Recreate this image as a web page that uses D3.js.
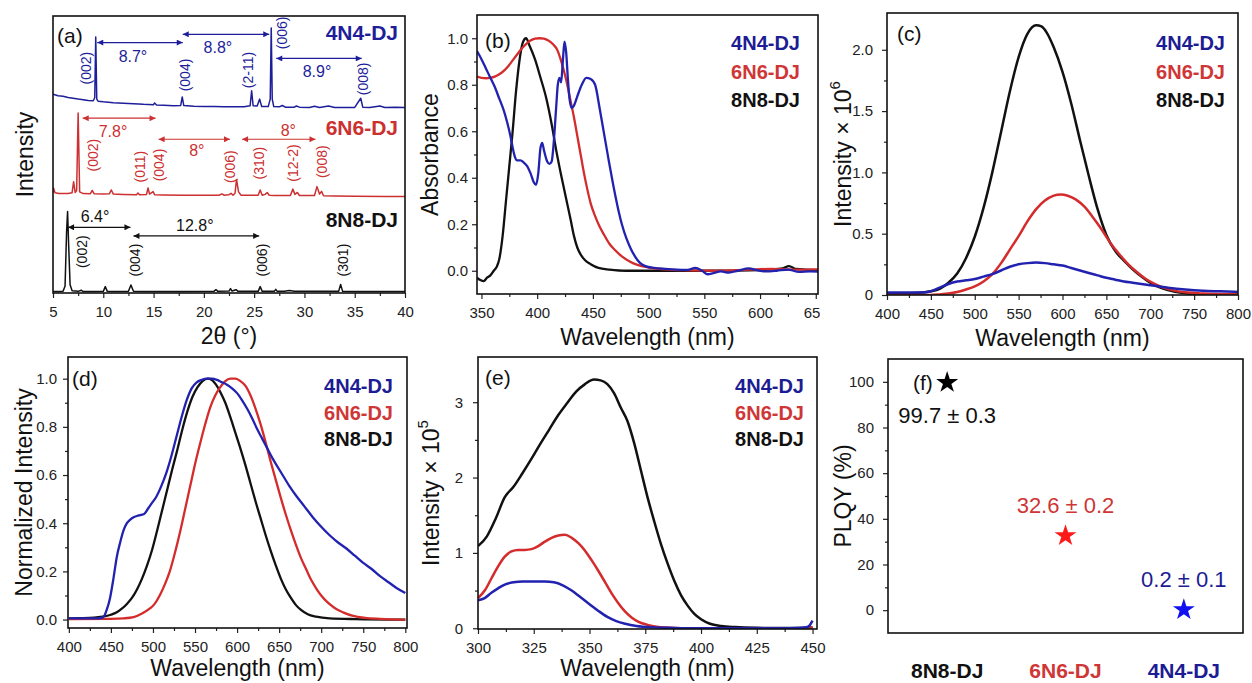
<!DOCTYPE html>
<html>
<head>
<meta charset="utf-8">
<script src="https://cdn.jsdelivr.net/npm/d3@7"></script>
<style>
  body { margin: 0; background: #fff; }
  svg { display: block; }
</style>
</head>
<body>
<svg id="fig" width="1252" height="683"></svg>
<script>
// ---------------- data ----------------
const samples = ['4N4-DJ', '6N6-DJ', '8N8-DJ'];

// (a) XRD patterns, [2theta, stacked intensity]
const xrd4N4 = [[5.0,71.8],[5.5,71.2],[6,71.0],[6.5,70.6],[7,70.3],[7.5,70.0],[8,69.8],[8.5,69.5],[9.0,69.4],[9.15,70.5],[9.25,92.4],[9.35,70.0],[9.5,69.2],[10,69.0],[11,68.7],[12,68.5],[13,68.3],[14,68.1],[15,68.0],[15.1,68.6],[15.3,67.9],[16,67.8],[17,67.6],[17.7,67.7],[17.85,70.8],[18.0,67.7],[19,67.4],[20,67.3],[21,67.3],[22,67.2],[23,67.2],[24,67.2],[24.6,67.6],[24.75,73.0],[24.9,67.6],[25.3,67.5],[25.55,70.0],[25.75,67.3],[26.4,67.3],[26.6,70],[26.7,95.7],[26.8,70],[26.95,67.3],[27.5,67.2],[27.8,67.7],[28.1,67.1],[29,67.1],[29.2,67.5],[29.5,67.1],[30.5,67.0],[31,67.4],[31.5,67.0],[32.4,67.5],[33,67.0],[35.0,67.0],[35.6,70.3],[35.8,67.1],[36.5,67.0],[37.5,67.5],[38,67.0],[39,67.1],[40,67.0]];
const xrd6N6 = [[5.0,36.3],[5.05,37.9],[5.2,36.2],[5.6,35.9],[6.5,35.9],[6.9,36.2],[7.05,40.2],[7.2,36.3],[7.35,37],[7.5,65.0],[7.65,36.5],[8,35.9],[8.7,35.8],[8.9,37.0],[9.1,35.8],[10,35.7],[10.6,35.8],[10.8,37.2],[11.0,35.7],[12,35.6],[13.3,35.5],[13.45,36.1],[13.6,35.5],[14.3,35.6],[14.45,37.9],[14.6,35.7],[14.95,36.6],[15.1,35.5],[16,35.4],[18,35.3],[20,35.3],[21.5,35.3],[21.8,35.8],[22.0,35.3],[22.5,35.5],[22.7,36.0],[22.9,35.3],[23.1,36],[23.25,41.0],[23.45,36.5],[23.7,35.3],[25.4,35.3],[25.6,37.2],[25.8,35.3],[26.1,35.6],[26.3,36.3],[26.5,35.3],[27,35.2],[28.6,35.2],[28.85,37.5],[29.05,35.6],[29.3,36.3],[29.5,35.2],[31.0,35.2],[31.25,38.4],[31.5,35.7],[31.7,36.7],[31.9,35.1],[33,35.0],[35,34.9],[38,34.8],[40,34.8]];
const xrd8N8 = [[5.0,0.5],[5.5,0.5],[6.0,0.6],[6.2,2.5],[6.35,22],[6.45,29.4],[6.55,18],[6.7,3],[6.9,0.8],[7.5,0.6],[7.8,1.0],[8.0,0.5],[9,0.5],[10.0,0.6],[10.2,2.3],[10.4,0.6],[11,0.5],[12.5,0.6],[12.75,2.9],[13.0,0.6],[14,0.5],[18,0.5],[21.0,0.6],[21.2,1.2],[21.4,0.6],[22.5,0.7],[22.65,1.6],[22.8,0.7],[23.2,1.2],[23.4,0.6],[25.4,0.6],[25.6,2.3],[25.8,0.6],[27.0,0.6],[27.15,1.3],[27.3,0.6],[28,0.6],[28.5,0.9],[29,0.6],[33.4,0.6],[33.6,3.1],[33.8,0.6],[35,0.5],[40,0.5]];

// (a) annotations: peak indices [label, 2theta, height] and spacings [from, to, height, label, labelX, labelY]
const hkl4N4 = [['(002)',8.28,81.2],['(004)',18.13,78.7],['(2-11)',24.39,80.5],['(006)',27.77,93.9],['(008)',35.82,77.3]];
const hkl6N6 = [['(002)',8.95,49.8],['(011)',13.65,45.6],['(004)',15.57,46.2],['(006)',22.6,45.6],['(310)',25.5,46.9],['(12-2)',28.9,46.9],['(008)',31.7,47.4]];
const hkl8N8 = [['(002)',7.85,14.9],['(004)',13.15,11.9],['(006)',25.75,11.9],['(301)',33.87,11.9]];
const gap4N4 = [[9.4,17.9,90.4,'8.7°',12.95,85.2],[17.9,26.5,93.4,'8.8°',21.4,88.8],[27.2,35.7,84.7,'8.9°',31.25,79.8]];
const gap6N6 = [[7.95,15.2,63.1,'7.8°',10.97,58.2],[15.5,22.6,55.5,'8°',19.3,51.6],[23.8,31.1,55.5,'8°',28.4,58.8]];
const gap8N8 = [[6.5,12.7,23.7,'6.4°',9.18,27.5],[13.0,25.5,20.6,'12.8°',19.1,24.5]];

// (b) absorbance, [nm, abs]
const abs4N4 = [[346,0.945],[350,0.91],[354,0.87],[358,0.83],[362,0.79],[366,0.74],[370,0.69],[373,0.64],[376,0.58],[378,0.53],[380,0.49],[382,0.475],[385,0.475],[388,0.465],[391,0.45],[394,0.42],[397,0.38],[399,0.37],[401,0.42],[403,0.53],[404.5,0.55],[406,0.52],[409,0.47],[411,0.46],[413,0.47],[415,0.56],[417,0.7],[418.5,0.8],[420,0.83],[421.5,0.81],[423,0.9],[424.5,0.985],[426,0.94],[427.5,0.83],[429,0.74],[431,0.7],[433,0.71],[436,0.75],[440,0.8],[444,0.83],[448,0.825],[452,0.8],[456,0.7],[460,0.59],[464,0.48],[468,0.375],[472,0.28],[476,0.2],[480,0.14],[484,0.095],[488,0.06],[492,0.035],[497,0.02],[505,0.012],[515,0.008],[525,0.005],[535,0.004],[542,0.012],[548,0.0],[553,-0.015],[558,-0.01],[565,-0.003],[572,-0.008],[580,0.0],[590,0.01],[597,0.003],[605,-0.003],[615,0.0],[625,0.005],[635,-0.005],[645,-0.003],[652,-0.004]];
const abs6N6 = [[346,0.835],[350,0.83],[354,0.828],[358,0.83],[362,0.835],[366,0.845],[370,0.86],[374,0.88],[378,0.905],[382,0.93],[386,0.955],[390,0.975],[394,0.99],[398,0.998],[402,1.0],[406,0.998],[410,0.99],[414,0.975],[418,0.95],[421,0.91],[424,0.86],[427,0.8],[430,0.73],[433,0.66],[436,0.58],[439,0.5],[442,0.42],[445,0.35],[448,0.29],[452,0.235],[456,0.19],[460,0.155],[465,0.115],[470,0.088],[476,0.062],[483,0.04],[490,0.025],[500,0.014],[515,0.006],[535,0.002],[560,0.0],[590,0.005],[610,0.008],[630,0.005],[652,0.006]];
const abs8N8 = [[346,-0.03],[349,-0.04],[352,-0.045],[355,-0.03],[358,-0.02],[361,0.0],[364,0.02],[366,0.05],[369,0.15],[372,0.3],[375,0.45],[378,0.6],[381,0.77],[384,0.9],[387,0.98],[390,1.0],[393,0.97],[398,0.91],[403,0.83],[408,0.745],[413,0.63],[417,0.52],[422,0.4],[426,0.31],[430,0.22],[433,0.15],[436,0.1],[439,0.07],[443,0.045],[448,0.028],[455,0.012],[465,0.005],[480,0.0],[500,0.0],[530,0.0],[560,0.0],[600,0.003],[620,0.01],[626,0.02],[632,0.008],[652,0.003]];

// (c) PL intensity x 10^6
const pl4N4 = [[400,0.02],[440,0.02],[450,0.03],[460,0.06],[470,0.09],[480,0.11],[490,0.12],[500,0.13],[510,0.15],[520,0.17],[530,0.2],[540,0.23],[550,0.25],[560,0.26],[570,0.265],[580,0.26],[590,0.25],[600,0.24],[610,0.22],[620,0.2],[630,0.18],[640,0.16],[650,0.14],[660,0.125],[670,0.11],[680,0.1],[690,0.09],[700,0.08],[720,0.06],[740,0.045],[760,0.035],[780,0.03],[800,0.025]];
const pl6N6 = [[400,0],[450,0.0],[460,0.005],[470,0.012],[480,0.025],[490,0.045],[500,0.07],[510,0.11],[520,0.17],[530,0.26],[540,0.37],[550,0.48],[560,0.6],[570,0.7],[580,0.77],[590,0.81],[598,0.82],[606,0.81],[615,0.78],[625,0.72],[635,0.63],[645,0.53],[655,0.42],[665,0.33],[675,0.25],[685,0.185],[695,0.13],[705,0.09],[715,0.06],[725,0.04],[740,0.022],[760,0.012],[780,0.008],[800,0.006]];
const pl8N8 = [[400,0.01],[420,0.012],[440,0.02],[450,0.03],[460,0.05],[470,0.1],[480,0.175],[490,0.3],[500,0.475],[510,0.71],[520,1.0],[530,1.33],[540,1.66],[550,1.94],[560,2.13],[570,2.2],[576,2.19],[582,2.14],[590,2.02],[600,1.82],[610,1.56],[620,1.26],[630,0.97],[640,0.7],[650,0.49],[660,0.36],[670,0.28],[680,0.21],[690,0.15],[700,0.1],[710,0.065],[720,0.04],[740,0.014],[760,0.004],[780,0.0],[800,0.0]];

// (d) normalized PL
const norm4N4 = [[400,0.005],[420,0.005],[435,0.005],[441,0.01],[445,0.04],[449,0.09],[453,0.17],[457,0.26],[461,0.32],[465,0.37],[469,0.4],[473,0.415],[477,0.425],[481,0.43],[486,0.435],[490,0.44],[494,0.46],[498,0.48],[504,0.51],[510,0.555],[516,0.61],[522,0.68],[528,0.76],[534,0.84],[540,0.91],[546,0.96],[552,0.985],[558,0.995],[564,1.0],[570,1.0],[576,0.995],[582,0.985],[588,0.975],[594,0.96],[600,0.94],[606,0.91],[612,0.875],[618,0.835],[624,0.79],[630,0.75],[636,0.71],[642,0.67],[648,0.635],[655,0.595],[662,0.555],[670,0.515],[680,0.47],[690,0.425],[700,0.385],[710,0.35],[720,0.32],[730,0.295],[740,0.265],[750,0.235],[760,0.21],[770,0.18],[780,0.155],[790,0.13],[800,0.11]];
const norm6N6 = [[400,0.002],[450,0.003],[465,0.005],[477,0.01],[487,0.025],[496,0.045],[502,0.065],[508,0.1],[514,0.145],[520,0.2],[526,0.275],[532,0.36],[538,0.455],[544,0.55],[550,0.645],[556,0.73],[562,0.81],[568,0.88],[574,0.93],[580,0.965],[586,0.99],[592,1.0],[598,1.0],[604,0.99],[610,0.97],[616,0.93],[622,0.875],[628,0.81],[634,0.735],[640,0.655],[646,0.58],[652,0.505],[658,0.435],[664,0.37],[670,0.31],[676,0.255],[682,0.21],[688,0.165],[694,0.13],[700,0.1],[708,0.07],[716,0.048],[726,0.03],[738,0.015],[752,0.007],[770,0.003],[800,0.0]];
const norm8N8 = [[400,0.005],[430,0.008],[440,0.012],[450,0.02],[457,0.03],[463,0.045],[469,0.065],[475,0.09],[481,0.125],[487,0.17],[493,0.225],[499,0.29],[505,0.37],[511,0.455],[517,0.54],[523,0.625],[529,0.705],[535,0.79],[541,0.865],[547,0.925],[553,0.965],[559,0.99],[565,1.0],[570,0.995],[575,0.975],[580,0.945],[586,0.9],[592,0.84],[598,0.775],[604,0.71],[610,0.64],[616,0.565],[622,0.49],[628,0.42],[634,0.35],[640,0.285],[646,0.225],[652,0.17],[658,0.125],[664,0.09],[670,0.06],[676,0.04],[684,0.022],[694,0.012],[710,0.005],[740,0.002],[800,0.0]];

// (e) PLE intensity x 10^5
const ple4N4 = [[300,0.37],[303,0.4],[306,0.47],[309,0.53],[312,0.58],[316,0.61],[320,0.62],[325,0.62],[330,0.62],[334,0.61],[338,0.57],[342,0.5],[346,0.41],[350,0.32],[354,0.23],[358,0.15],[362,0.095],[366,0.06],[371,0.03],[378,0.012],[388,0.004],[400,0.0],[440,0.0],[445,0.005],[448,0.02],[450,0.1]];
const ple6N6 = [[300,0.4],[303,0.5],[306,0.66],[309,0.82],[312,0.95],[315,1.02],[318,1.04],[321,1.04],[324,1.05],[327,1.09],[330,1.15],[333,1.2],[336,1.23],[339,1.24],[342,1.2],[345,1.13],[348,1.03],[351,0.9],[354,0.76],[357,0.61],[360,0.46],[363,0.33],[366,0.22],[369,0.14],[372,0.085],[376,0.045],[380,0.02],[386,0.008],[395,0.0],[448,0.0],[450,0.015]];
const ple8N8 = [[300,1.09],[304,1.22],[308,1.46],[312,1.74],[316,1.88],[320,2.06],[324,2.25],[328,2.45],[332,2.64],[336,2.83],[340,2.99],[344,3.14],[348,3.24],[352,3.3],[355,3.29],[358,3.24],[361,3.12],[364,2.93],[367,2.75],[370,2.46],[373,2.1],[376,1.74],[379,1.42],[382,1.12],[385,0.86],[388,0.63],[391,0.44],[394,0.3],[397,0.19],[400,0.12],[404,0.06],[409,0.03],[415,0.015],[425,0.005],[440,0.003],[450,0.01]];

// (f) PLQY
const plqyCats = ['8N8-DJ', '6N6-DJ', '4N4-DJ'];
const plqyVals = [99.7, 32.6, 0.2];
const plqyErr = [0.3, 0.2, 0.1];

// tick values
const xrdTicks = [5, 10, 15, 20, 25, 30, 35, 40];
const absXTicks = [350, 400, 450, 500, 550, 600, 650];
const absYTicks = [0, 0.2, 0.4, 0.6, 0.8, 1.0];
const plXTicks = [400, 450, 500, 550, 600, 650, 700, 750, 800];
const plYTicks = [0, 0.5, 1.0, 1.5, 2.0];
const normYTicks = [0, 0.2, 0.4, 0.6, 0.8, 1.0];
const pleXTicks = [300, 325, 350, 375, 400, 425, 450];
const pleYTicks = [0, 1, 2, 3];
const plqyYTicks = [0, 20, 40, 60, 80, 100];

// ---------------- styles ----------------
const lineColor = { '4N4-DJ': '#2222b0', '6N6-DJ': '#d42c2c', '8N8-DJ': '#111111' };
const textColor = { '4N4-DJ': '#1c1c94', '6N6-DJ': '#cf3636', '8N8-DJ': '#111111' };
const xrdColor = { '4N4-DJ': '#1e1e9a', '6N6-DJ': '#cc3030', '8N8-DJ': '#111111' };
const starColor = { '8N8-DJ': '#000000', '6N6-DJ': '#ff1a1a', '4N4-DJ': '#1010f0' };
const font = '"Liberation Sans", Arial, sans-serif';

const svg = d3.select('#fig').attr('font-family', font);
const defs = svg.append('defs');
let clipCount = 0;

function createArrowMarker(name, color) {
  defs.append('marker')
    .attr('id', name)
    .attr('viewBox', '0 0 10 10')
    .attr('refX', 10)
    .attr('refY', 5)
    .attr('markerUnits', 'userSpaceOnUse')
    .attr('markerWidth', 8)
    .attr('markerHeight', 6)
    .attr('orient', 'auto-start-reverse')
    .append('path')
    .attr('d', 'M0,0 L10,5 L0,10 z')
    .attr('fill', color);
}

function panel(box, xDomain, yDomain) {
  const x = d3.scaleLinear().domain(xDomain).range([box.left, box.right]);
  const y = d3.scaleLinear().domain(yDomain).range([box.bottom, box.top]);
  const g = svg.append('g');
  const id = 'clip' + (++clipCount);
  defs.append('clipPath').attr('id', id).append('rect')
    .attr('x', box.left).attr('y', box.top)
    .attr('width', box.right - box.left).attr('height', box.bottom - box.top);
  const plot = g.append('g').attr('clip-path', `url(#${id})`);
  return { box, x, y, g, plot };
}

function styleAxis(ax) {
  ax.attr('font-family', null).attr('font-size', null);
  ax.select('.domain').remove();
  ax.selectAll('.tick line').attr('stroke', '#222').attr('stroke-width', 1.2);
  ax.selectAll('.tick text').attr('fill', '#222').style('font-size', '15px');
}

function minorOf(ticks) {
  return ticks.slice(1).map((t, i) => (t + ticks[i]) / 2);
}

function bottomAxis(p, major, fmt) {
  const mn = p.g.append('g').attr('transform', `translate(0,${p.box.bottom})`)
    .call(d3.axisBottom(p.x).tickValues(minorOf(major)).tickSize(3).tickFormat(''));
  const mj = p.g.append('g').attr('transform', `translate(0,${p.box.bottom})`)
    .call(d3.axisBottom(p.x).tickValues(major).tickSize(5).tickPadding(8).tickFormat(fmt));
  styleAxis(mn); styleAxis(mj);
  return mj;
}

function leftAxis(p, major, fmt, pad) {
  const mn = p.g.append('g').attr('transform', `translate(${p.box.left},0)`)
    .call(d3.axisLeft(p.y).tickValues(minorOf(major)).tickSize(3).tickFormat(''));
  const mj = p.g.append('g').attr('transform', `translate(${p.box.left},0)`)
    .call(d3.axisLeft(p.y).tickValues(major).tickSize(5).tickPadding(pad).tickFormat(fmt));
  styleAxis(mn); styleAxis(mj);
  return mj;
}

function frame(p) {
  p.g.append('rect')
    .attr('x', p.box.left).attr('y', p.box.top)
    .attr('width', p.box.right - p.box.left).attr('height', p.box.bottom - p.box.top)
    .attr('fill', 'none').attr('stroke', '#111').attr('stroke-width', 1.6);
}

function xTitle(p, text, off) {
  return p.g.append('text')
    .attr('x', (p.box.left + p.box.right) / 2).attr('y', p.box.bottom + off)
    .attr('text-anchor', 'middle').attr('font-size', 23).attr('fill', '#111')
    .text(text);
}

function yTitle(p, text, off, sup) {
  const t = p.g.append('text')
    .attr('transform', `translate(${p.box.left - off},${(p.box.top + p.box.bottom) / 2}) rotate(-90)`)
    .attr('text-anchor', 'middle').attr('dominant-baseline', 'central')
    .attr('font-size', 23).attr('fill', '#111')
    .text(text);
  if (sup) t.append('tspan').attr('dy', -9).attr('font-size', 15).text(sup);
  return t;
}

function panelLetter(p, letter, dx, dy) {
  p.g.append('text')
    .attr('x', p.box.left + dx).attr('y', p.box.top + dy)
    .attr('dominant-baseline', 'central').attr('font-size', 21).attr('fill', '#111')
    .text(letter);
}

function legend(p, xr, y0, step) {
  samples.forEach((s, i) => {
    p.g.append('text')
      .attr('x', xr).attr('y', y0 + i * step)
      .attr('text-anchor', 'end').attr('dominant-baseline', 'central')
      .attr('font-size', 20).attr('font-weight', 'bold').attr('fill', textColor[s])
      .text(s);
  });
}

function drawSeries(p, series, curve) {
  const line = d3.line().x(d => p.x(d[0])).y(d => p.y(d[1])).curve(curve);
  series.forEach(([data, s, w]) => {
    p.plot.append('path').datum(data)
      .attr('fill', 'none').attr('stroke', lineColor[s])
      .attr('stroke-width', w).attr('stroke-linejoin', 'round')
      .attr('d', line);
  });
}

samples.forEach(s => createArrowMarker('arrow-' + s, xrdColor[s]));

// ---------------- (a) XRD ----------------
const pa = panel({ left: 53, right: 405, top: 16, bottom: 293 }, [5, 40], [0, 100]);
const xrdLine = d3.line().x(d => pa.x(d[0])).y(d => pa.y(d[1]));
[[xrd8N8, '8N8-DJ'], [xrd6N6, '6N6-DJ'], [xrd4N4, '4N4-DJ']].forEach(([data, s]) => {
  pa.plot.append('path').datum(data)
    .attr('fill', 'none').attr('stroke', xrdColor[s]).attr('stroke-width', 1.5)
    .attr('stroke-linejoin', 'round').attr('d', xrdLine);
});
[[hkl4N4, gap4N4, '4N4-DJ'], [hkl6N6, gap6N6, '6N6-DJ'], [hkl8N8, gap8N8, '8N8-DJ']].forEach(([hkl, gaps, s]) => {
  const c = xrdColor[s];
  hkl.forEach(([lab, tt, h]) => {
    pa.g.append('text')
      .attr('transform', `translate(${pa.x(tt)},${pa.y(h)}) rotate(-90)`)
      .attr('text-anchor', 'middle').attr('dominant-baseline', 'central')
      .attr('font-size', 14).attr('fill', c).text(lab);
  });
  gaps.forEach(([a, b, h, lab, lx, ly]) => {
    pa.g.append('line')
      .attr('x1', pa.x(a)).attr('x2', pa.x(b)).attr('y1', pa.y(h)).attr('y2', pa.y(h))
      .attr('stroke', c).attr('stroke-width', 1.2)
      .attr('marker-start', `url(#arrow-${s})`).attr('marker-end', `url(#arrow-${s})`);
    pa.g.append('text')
      .attr('x', pa.x(lx)).attr('y', pa.y(ly))
      .attr('text-anchor', 'middle').attr('dominant-baseline', 'central')
      .attr('font-size', 16).attr('fill', c).text(lab);
  });
});
[['4N4-DJ', 93.9], ['6N6-DJ', 59.6], ['8N8-DJ', 26.4]].forEach(([s, h]) => {
  pa.g.append('text')
    .attr('x', pa.box.right - 7).attr('y', pa.y(h))
    .attr('text-anchor', 'end').attr('dominant-baseline', 'central')
    .attr('font-size', 21).attr('font-weight', 'bold').attr('fill', xrdColor[s]).text(s);
});
bottomAxis(pa, xrdTicks, d3.format('d'));
frame(pa);
xTitle(pa, '2θ (°)', 51);
yTitle(pa, 'Intensity', 28);
panelLetter(pa, '(a)', 4, 19);

// ---------------- (b) absorbance ----------------
const pb = panel({ left: 477, right: 818, top: 15, bottom: 294 }, [346, 652], [-0.1, 1.1]);
drawSeries(pb, [[abs8N8, '8N8-DJ', 2.3], [abs6N6, '6N6-DJ', 2.3], [abs4N4, '4N4-DJ', 2.3]], d3.curveMonotoneX);
const axb = bottomAxis(pb, absXTicks, d3.format('d'));
defs.append('clipPath').attr('id', 'clipB').append('rect')
  .attr('x', 0).attr('y', 0).attr('width', 820).attr('height', 683);
axb.attr('clip-path', 'url(#clipB)');
leftAxis(pb, absYTicks, d3.format('.1f'), 4);
frame(pb);
xTitle(pb, 'Wavelength (nm)', 51);
yTitle(pb, 'Absorbance', 47);
panelLetter(pb, '(b)', 8, 25);
legend(pb, 800, 43, 28.5);

// ---------------- (c) PL ----------------
const pc = panel({ left: 887, right: 1238, top: 13, bottom: 295 }, [400, 800], [0, 2.3]);
drawSeries(pc, [[pl8N8, '8N8-DJ', 2.5], [pl6N6, '6N6-DJ', 2.5], [pl4N4, '4N4-DJ', 2.5]], d3.curveMonotoneX);
bottomAxis(pc, plXTicks, d3.format('d'));
leftAxis(pc, plYTicks, d => d === 0 ? '0' : d3.format('.1f')(d), 9);
frame(pc);
xTitle(pc, 'Wavelength (nm)', 51);
yTitle(pc, 'Intensity × 10', 44, '6');
panelLetter(pc, '(c)', 10, 20);
legend(pc, 1225, 43, 28.5);

// ---------------- (d) normalized PL ----------------
const pd = panel({ left: 68, right: 407, top: 357, bottom: 628 }, [399, 802], [-0.035, 1.09]);
drawSeries(pd, [[norm8N8, '8N8-DJ', 2.3], [norm6N6, '6N6-DJ', 2.3], [norm4N4, '4N4-DJ', 2.3]], d3.curveMonotoneX);
bottomAxis(pd, plXTicks, d3.format('d'));
leftAxis(pd, normYTicks, d3.format('.1f'), 6);
frame(pd);
xTitle(pd, 'Wavelength (nm)', 48);
yTitle(pd, 'Normalized Intensity', 44);
panelLetter(pd, '(d)', 4, 21);
legend(pd, 393, 386, 26.5);

// ---------------- (e) PLE ----------------
const pe = panel({ left: 478, right: 817, top: 357, bottom: 629 }, [300, 452], [-0.01, 3.6]);
drawSeries(pe, [[ple8N8, '8N8-DJ', 2.5], [ple6N6, '6N6-DJ', 2.5], [ple4N4, '4N4-DJ', 2.5]], d3.curveMonotoneX);
bottomAxis(pe, pleXTicks, d3.format('d'));
leftAxis(pe, pleYTicks, d3.format('d'), 10);
frame(pe);
xTitle(pe, 'Wavelength (nm)', 47);
yTitle(pe, 'Intensity × 10', 47, '5');
panelLetter(pe, '(e)', 7, 20);
legend(pe, 804, 386, 26.5);

// ---------------- (f) PLQY ----------------
const pf = panel({ left: 888, right: 1243, top: 359, bottom: 633 }, [0.5, 3.5], [-10, 110]);
const star = d3.symbol(d3.symbolStar, 150);
plqyCats.forEach((c, i) => {
  const cx = pf.x(i + 1), cy = pf.y(plqyVals[i]);
  pf.g.append('path').attr('d', star)
    .attr('transform', `translate(${cx},${cy})`)
    .attr('fill', starColor[c]);
  const below = i === 0;
  pf.g.append('text')
    .attr('x', cx).attr('y', below ? cy + 33 : cy - 30)
    .attr('text-anchor', 'middle').attr('dominant-baseline', 'central')
    .attr('font-size', 22).attr('fill', textColor[c])
    .text(`${plqyVals[i]} ± ${plqyErr[i]}`);
  pf.g.append('text')
    .attr('x', cx).attr('y', 670)
    .attr('text-anchor', 'middle').attr('dominant-baseline', 'central')
    .attr('font-size', 21).attr('font-weight', 'bold').attr('fill', textColor[c])
    .text(c);
});
leftAxis(pf, plqyYTicks, d3.format('d'), 9);
frame(pf);
yTitle(pf, 'PLQY (%)', 45);
panelLetter(pf, '(f)', 25, 23);
</script>
</body>
</html>
